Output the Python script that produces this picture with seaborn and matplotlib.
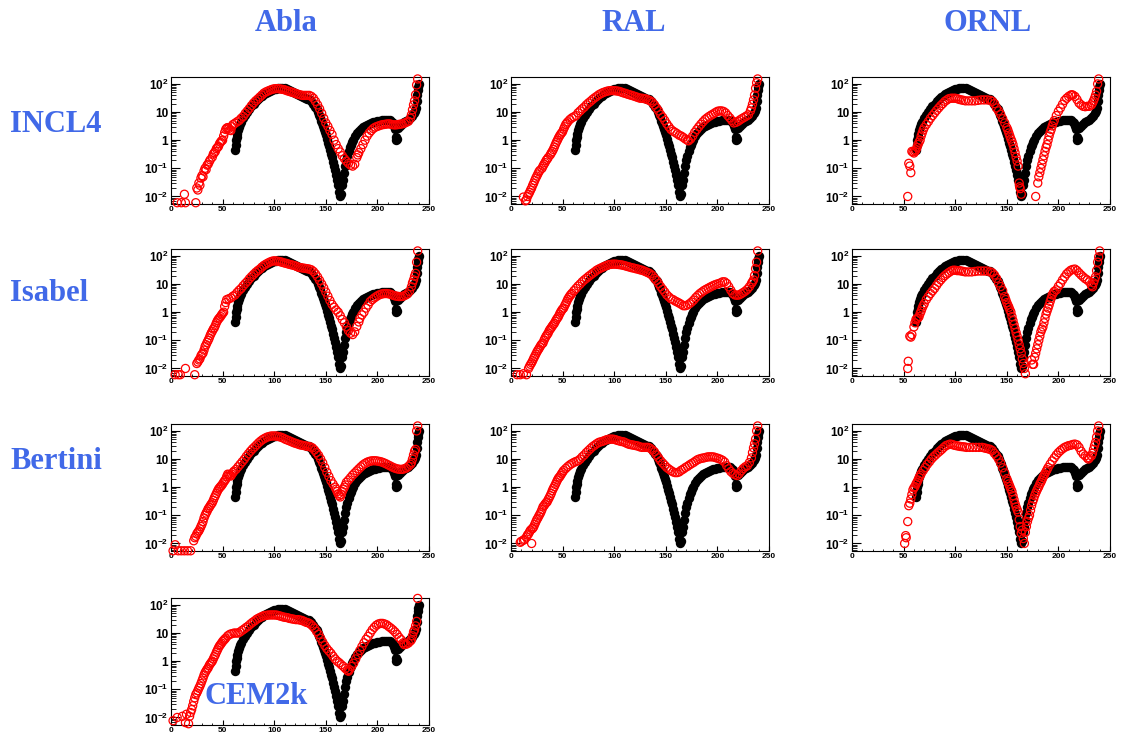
import matplotlib
matplotlib.use('Agg')
import matplotlib.pyplot as plt
from matplotlib.ticker import NullFormatter, LogLocator
import seaborn as sns

sns.set_style('white')
plt.rcParams['font.family'] = ['Liberation Sans', 'DejaVu Sans']
plt.rcParams['mathtext.fontset'] = 'custom'
plt.rcParams['mathtext.rm'] = 'Liberation Sans:bold'
plt.rcParams['mathtext.bf'] = 'Liberation Sans:bold'

# %%
# data (black, same in every panel)
exp_x = [62, 62.5, 63, 63.5, 64, 65, 66, 67, 68,
         70, 72, 74, 76, 78, 80, 82, 84, 86, 88, 90, 92, 94, 96, 98, 100, 102, 104, 106, 108,
         110, 112, 114, 116, 118, 120, 122, 124, 126, 128, 130, 132, 134, 136, 138, 140,
         141, 142, 143, 144, 145, 146, 147, 148, 149, 150, 151, 152, 153, 154, 155, 156, 157, 158,
         159, 160, 161, 162, 163, 164, 165, 166, 167, 168, 169, 170, 171, 172, 173, 174, 175, 176,
         178, 180, 182, 184, 186, 188, 190, 192, 194, 196, 198, 200, 202, 204, 206, 208, 210, 212, 214,
         215, 216, 217, 218, 218.5, 219, 220,
         222, 224, 226, 228, 230, 232, 234,
         235, 236, 237, 238, 238.5, 239, 239.5, 240]
exp_y = [0.45, 0.7, 1.0, 1.3, 1.6, 2.3, 3.0, 3.8, 4.5,
         6, 8, 10, 13, 16, 20, 24, 28, 33, 38, 43, 48, 53, 57, 61, 64, 67, 70, 72, 72,
         70, 66, 62, 57, 52, 48, 44, 40, 37, 34, 32, 30, 28, 25, 20, 15,
         12.5, 10, 8, 6.5, 5, 4, 3.2, 2.5, 2, 1.5, 1.1, 0.8, 0.6, 0.45, 0.33, 0.25, 0.17, 0.12,
         0.085, 0.06, 0.04, 0.025, 0.015, 0.01, 0.012, 0.025, 0.04, 0.07, 0.12, 0.2, 0.28, 0.4, 0.55, 0.7, 0.85, 1.0,
         1.4, 1.8, 2.2, 2.6, 3.0, 3.3, 3.6, 3.9, 4.2, 4.4, 4.6, 4.8, 5.0, 5.1, 5.2, 5.3, 5.3, 5.1, 4.5,
         4.0, 3.2, 2.5, 1.0, 1.3, 1.1, 2.8,
         3.3, 3.8, 4.3, 4.8, 5.3, 6, 7.5,
         9, 11, 14, 25, 40, 60, 80, 100]

# %%
# models (red), (x, y) pairs
incl4_abla = [(6, 0.006), (10, 0.006), (13, 0.012), (14, 0.006), (24, 0.006), (25, 0.02), (26, 0.017),
    (27, 0.03), (28, 0.025), (29, 0.045), (30, 0.055), (31, 0.05), (32, 0.08), (33, 0.1), (34, 0.09),
    (35, 0.13), (36, 0.14), (37, 0.17), (38, 0.2), (40, 0.25), (41, 0.32), (42, 0.36), (43, 0.4),
    (44, 0.5), (45, 0.55), (46, 0.6), (47, 0.75), (48, 0.85), (49, 0.95), (50, 1.0), (51, 1.4),
    (52, 1.9), (53, 2.4), (54, 2.7), (55, 2.8), (56, 2.6), (57, 2.3), (58, 2.2), (59, 3.0), (60, 3.6),
    (62, 4.0), (64, 4.5), (66, 5.0), (68, 6), (70, 7), (72, 9), (74, 11), (76, 13.5), (78, 17),
    (80, 21), (82, 25), (84, 29), (86, 34), (88, 40), (90, 47), (92, 52), (94, 56), (96, 60), (98, 64),
    (100, 67), (102, 68), (104, 68), (106, 66), (108, 64), (110, 62), (112, 58), (114, 55), (116, 52),
    (118, 50), (120, 47), (122, 44), (124, 42), (126, 40), (128, 39), (130, 39), (132, 39), (134, 39),
    (136, 36), (138, 31), (140, 24), (142, 18), (144, 13), (146, 9), (148, 6), (150, 4.1), (152, 3.1),
    (154, 2.2), (156, 1.6), (158, 1.0), (160, 0.7), (162, 0.5), (164, 0.38), (166, 0.28), (168, 0.22),
    (170, 0.18), (172, 0.15), (174, 0.13), (176, 0.12), (178, 0.14), (180, 0.24), (181, 0.3), (182, 0.36),
    (184, 0.5), (186, 0.7), (188, 1.0), (190, 1.4), (192, 1.8), (194, 2.2), (196, 2.6), (198, 2.9),
    (200, 3.1), (202, 3.3), (204, 3.5), (206, 3.6), (208, 3.7), (210, 3.8), (212, 3.8), (214, 3.6),
    (216, 3.5), (218, 3.5), (220, 3.6), (222, 3.7), (224, 3.8), (226, 4.0), (228, 4.3), (230, 4.7),
    (232, 6), (233, 8), (234, 12), (235, 18), (236, 25), (237, 41), (238, 92), (239, 150)]

incl4_ral = [(12, 0.0095), (14, 0.007), (15, 0.0075), (16, 0.01), (17, 0.012), (18, 0.014), (19, 0.017),
    (20, 0.02), (21, 0.025), (22, 0.03), (23, 0.037), (24, 0.045), (25, 0.053), (26, 0.063), (27, 0.075),
    (28, 0.085), (30, 0.1), (31, 0.12), (32, 0.14), (33, 0.16), (34, 0.19), (35, 0.21), (36, 0.24),
    (38, 0.3), (39, 0.35), (40, 0.4), (41, 0.47), (42, 0.57), (43, 0.7), (44, 0.85), (45, 1.0), (46, 1.2),
    (47, 1.4), (48, 1.6), (49, 1.8), (50, 2.0), (51, 2.5), (52, 3.0), (53, 3.6), (54, 4.0), (55, 4.5),
    (57, 5.4), (59, 6.2), (61, 6.8), (63, 7.5), (65, 9.4), (67, 11), (69, 13), (71, 15), (73, 18),
    (75, 21), (77, 24), (79, 28), (81, 32), (83, 36), (85, 41), (87, 45), (89, 49), (91, 52), (93, 55),
    (95, 57), (97, 58), (99, 58), (101, 57), (103, 56), (105, 54), (107, 51), (109, 48), (111, 46),
    (113, 43), (115, 41), (117, 39), (119, 37), (121, 35), (123, 33), (125, 31), (127, 31), (129, 30),
    (131, 29), (133, 27), (135, 25), (137, 22), (139, 18), (141, 14), (143, 11), (145, 8.1), (147, 6.5),
    (149, 5), (151, 3.8), (153, 3.0), (155, 2.4), (157, 2.1), (159, 1.9), (161, 1.7), (163, 1.5),
    (165, 1.4), (167, 1.25), (169, 1.1), (171, 1.0), (172, 0.95), (174, 1.1), (176, 1.4), (178, 1.9),
    (180, 2.4), (182, 3), (184, 3.7), (186, 4.5), (188, 5.4), (190, 6.2), (192, 7), (194, 7.8),
    (196, 8.6), (198, 9.6), (200, 10.6), (202, 11), (204, 11), (206, 10.5), (208, 9.3), (210, 7.5),
    (212, 6.2), (214, 5), (216, 4.1), (218, 4.3), (220, 4.7), (222, 5.3), (224, 5.9), (226, 6.5),
    (228, 7.2), (230, 8), (232, 11), (233, 14), (234, 19), (235, 27), (236, 40), (237, 70), (238, 110),
    (239, 150)]

incl4_ornl = [(54, 0.01), (55, 0.15), (56, 0.12), (57, 0.07), (58, 0.4), (59, 0.38), (60, 0.35),
    (61, 0.4), (62, 0.45), (63, 0.55), (64, 0.7), (65, 0.85), (66, 1.0), (67, 1.4), (68, 1.8), (69, 2.3),
    (70, 2.8), (72, 3.6), (74, 4.6), (76, 6), (78, 7.5), (80, 9.3), (82, 11.5), (84, 14), (86, 17),
    (88, 20), (90, 24), (92, 27), (94, 30), (96, 31), (98, 31), (100, 31), (102, 30), (104, 28),
    (106, 27), (108, 26), (110, 25), (113, 25), (116, 25), (119, 25), (122, 26), (125, 27), (128, 27),
    (131, 27), (134, 26), (136, 24), (138, 20), (140, 14), (142, 11), (144, 8.3), (146, 5.8), (148, 4.1),
    (150, 2.8), (151, 2.3), (152, 1.8), (153, 1.4), (154, 1.1), (155, 0.9), (156, 0.7), (157, 0.5),
    (158, 0.36), (159, 0.25), (160, 0.18), (161, 0.12), (162, 0.03), (162.5, 0.022), (163, 0.019),
    (164, 0.012), (178, 0.01), (180, 0.03), (181, 0.05), (182, 0.07), (183, 0.1), (184, 0.14),
    (185, 0.2), (186, 0.28), (187, 0.4), (188, 0.55), (189, 0.7), (190, 1.0), (191, 1.4), (192, 1.9),
    (193, 2.4), (194, 3.2), (195, 4.1), (196, 5), (198, 7.5), (200, 10.6), (202, 14), (204, 19),
    (206, 26), (208, 31), (210, 36), (212, 40), (213, 41), (214, 40), (216, 36), (218, 28), (220, 21),
    (222, 18), (224, 16), (226, 15.5), (228, 16), (230, 16), (232, 18), (233, 21), (234, 25), (235, 31),
    (236, 40), (237, 54), (238, 100), (239, 150)]

isabel_abla = [(4, 0.006), (7, 0.006), (9, 0.006), (14, 0.01), (23, 0.006), (25, 0.015), (26, 0.017),
    (27, 0.02), (28, 0.022), (29, 0.028), (30, 0.032), (31, 0.035), (32, 0.045), (33, 0.06), (34, 0.07),
    (35, 0.085), (36, 0.1), (37, 0.12), (38, 0.15), (39, 0.18), (40, 0.21), (41, 0.25), (42, 0.28),
    (43, 0.34), (44, 0.42), (45, 0.5), (46, 0.57), (47, 0.63), (48, 0.7), (49, 0.8), (50, 0.9), (51, 1.0),
    (52, 1.6), (53, 2.2), (54, 2.8), (56, 3.0), (58, 3.2), (60, 3.7), (62, 4.1), (64, 5), (66, 6),
    (68, 7), (70, 8.7), (72, 10.5), (74, 12.5), (76, 15.5), (78, 18.5), (80, 22), (82, 26), (84, 30),
    (86, 34), (88, 40), (90, 46), (92, 51), (94, 56), (96, 61), (98, 65), (100, 67), (102, 66), (104, 64),
    (106, 62), (108, 59), (110, 56), (112, 54), (114, 51), (116, 49), (118, 47), (120, 45), (122, 42),
    (124, 39), (126, 38), (128, 37), (130, 36), (132, 35), (134, 34), (136, 32), (138, 28), (140, 23),
    (142, 18), (144, 13.5), (146, 10), (148, 7.3), (150, 5.2), (152, 3.7), (154, 2.6), (156, 1.9),
    (158, 1.5), (160, 1.2), (162, 1.0), (164, 0.75), (166, 0.55), (168, 0.42), (170, 0.3), (172, 0.22),
    (174, 0.18), (176, 0.16), (178, 0.2), (180, 0.31), (182, 0.45), (183, 0.6), (185, 0.8), (187, 1.0),
    (189, 1.4), (191, 1.8), (193, 2.4), (195, 2.8), (197, 3.2), (199, 3.6), (201, 4.0), (203, 4.3),
    (205, 4.5), (207, 4.6), (209, 4.6), (211, 4.5), (213, 4.3), (215, 4.0), (217, 3.8), (219, 3.7),
    (221, 3.6), (223, 3.6), (225, 3.7), (227, 4.0), (229, 4.4), (231, 5.5), (233, 8), (234, 11),
    (235, 14), (236, 19), (237, 24), (238, 60), (239, 150)]

isabel_ral = [(6, 0.006), (9, 0.006), (12, 0.0065), (15, 0.006), (17, 0.01), (18, 0.012), (19, 0.014),
    (20, 0.016), (21, 0.019), (22, 0.023), (23, 0.027), (24, 0.032), (25, 0.038), (26, 0.044), (27, 0.05),
    (28, 0.058), (29, 0.067), (30, 0.075), (31, 0.08), (32, 0.1), (33, 0.12), (34, 0.14), (35, 0.16),
    (36, 0.18), (37, 0.22), (38, 0.25), (39, 0.28), (40, 0.32), (41, 0.36), (42, 0.4), (43, 0.47),
    (44, 0.55), (45, 0.62), (46, 0.7), (47, 0.85), (48, 1.0), (49, 1.15), (50, 1.3), (51, 1.4), (52, 1.7),
    (53, 2.0), (54, 2.4), (55, 2.9), (56, 3.3), (57, 3.8), (58, 4.2), (59, 4.7), (61, 5.8), (63, 7),
    (65, 8.5), (67, 10), (69, 12), (71, 14), (73, 16), (75, 18.5), (77, 21), (79, 24), (81, 27), (83, 31),
    (85, 34), (87, 37), (89, 40), (91, 43), (93, 46), (95, 49), (97, 50), (99, 51), (101, 51), (103, 50),
    (105, 49), (107, 48), (109, 46), (111, 44), (113, 42), (115, 40), (117, 38), (119, 37), (121, 35),
    (123, 34), (125, 32), (127, 31), (129, 29), (131, 27), (133, 25), (135, 23), (137, 20), (139, 16),
    (141, 13.5), (143, 10.5), (145, 8.1), (147, 6.5), (149, 5.2), (151, 4.1), (153, 3.5), (155, 3.0),
    (157, 2.8), (159, 2.5), (161, 2.3), (163, 2.1), (165, 1.9), (167, 1.7), (169, 1.7), (171, 1.8),
    (173, 2.0), (175, 2.3), (177, 2.7), (179, 3.3), (181, 3.9), (183, 4.6), (185, 5.2), (187, 5.9),
    (189, 6.5), (191, 7.1), (193, 7.8), (195, 8.5), (197, 9.2), (199, 9.8), (201, 10.3), (203, 11),
    (205, 12), (207, 12), (209, 10.5), (211, 8), (213, 6), (215, 4.6), (217, 4.1), (219, 4.0), (221, 4.1),
    (223, 4.5), (225, 5), (227, 5.6), (229, 6.5), (231, 8), (233, 10.5), (234, 12), (235, 14), (236, 20),
    (237, 35), (238, 60), (239, 150)]

isabel_ornl = [(54, 0.01), (54.5, 0.018), (56, 0.14), (57, 0.13), (58, 0.16), (60, 0.3), (61, 0.42),
    (62, 0.55), (63, 0.6), (64, 0.62), (65, 0.7), (66, 0.9), (67, 1.1), (68, 1.4), (69, 1.7), (70, 2.0),
    (72, 2.8), (74, 3.6), (76, 4.6), (78, 5.7), (80, 7), (82, 9), (84, 11.5), (86, 14), (88, 17), (90, 20),
    (92, 23), (94, 26), (96, 29), (98, 31), (100, 31), (102, 30), (104, 30), (106, 29), (108, 28),
    (110, 27), (113, 27), (116, 27), (119, 28), (122, 29), (125, 29), (128, 29), (131, 29), (134, 27),
    (136, 25), (138, 21), (140, 16), (142, 11), (144, 8.1), (146, 5.8), (148, 3.6), (149, 2.8), (150, 2.2),
    (151, 1.8), (152, 1.5), (153, 1.2), (154, 1.0), (155, 0.7), (156, 0.5), (157, 0.36), (158, 0.26),
    (159, 0.19), (160, 0.14), (161, 0.1), (162, 0.07), (163, 0.05), (164, 0.035), (165, 0.022),
    (166, 0.015), (167, 0.01), (168, 0.0065), (174, 0.02), (175, 0.014), (176, 0.014), (177, 0.025),
    (178, 0.035), (179, 0.05), (180, 0.07), (181, 0.1), (182, 0.14), (183, 0.2), (184, 0.25), (185, 0.3),
    (186, 0.42), (187, 0.6), (188, 0.85), (189, 1.1), (190, 1.4), (191, 1.8), (192, 2.4), (193, 3.1),
    (194, 4.1), (195, 4.8), (196, 5.5), (198, 6.2), (200, 8.3), (202, 10.5), (204, 14), (206, 18),
    (208, 23), (210, 27), (212, 31), (214, 33), (216, 34), (218, 30), (220, 25), (222, 21), (224, 18),
    (226, 15.5), (228, 14), (230, 12), (232, 9), (233, 8), (234, 11), (235, 14), (236, 18), (237, 30),
    (238, 60), (239, 92), (240, 150)]

bertini_abla = [(2, 0.0055), (4, 0.009), (7, 0.0055), (10, 0.0055), (13, 0.0055), (16, 0.0055),
    (19, 0.0055), (22, 0.0125), (23, 0.016), (24, 0.018), (25, 0.022), (26, 0.025), (27, 0.028),
    (28, 0.033), (29, 0.04), (30, 0.048), (31, 0.06), (32, 0.08), (33, 0.1), (34, 0.12), (35, 0.14),
    (36, 0.17), (37, 0.19), (38, 0.22), (39, 0.25), (40, 0.28), (41, 0.34), (42, 0.42), (43, 0.5),
    (44, 0.6), (45, 0.72), (46, 0.85), (47, 0.95), (48, 1.05), (49, 1.15), (50, 1.3), (51, 1.5), (52, 1.7),
    (53, 1.9), (54, 2.4), (55, 2.9), (56, 2.8), (57, 2.6), (58, 2.5), (59, 2.9), (60, 3.3), (61, 3.7),
    (63, 4.3), (65, 5.3), (67, 6.5), (69, 8), (71, 9.8), (73, 12.5), (75, 15.5), (77, 19), (79, 23),
    (81, 27), (83, 32), (85, 38), (87, 44), (89, 50), (91, 55), (93, 60), (95, 63), (97, 66), (99, 66),
    (101, 66), (103, 65), (105, 62), (107, 59), (109, 55), (111, 50), (113, 47), (115, 44), (117, 41),
    (119, 38), (121, 36), (123, 34), (125, 32), (127, 31), (129, 30), (131, 29), (133, 28), (135, 27),
    (137, 25), (139, 21), (141, 17), (143, 13.5), (145, 10), (147, 7.3), (149, 5), (151, 3.4), (153, 2.4),
    (155, 1.7), (157, 1.3), (159, 1.0), (160, 0.85), (161, 0.7), (162, 0.58), (163, 0.5), (164, 0.45),
    (165, 0.55), (166, 0.7), (167, 0.85), (168, 1.0), (169, 1.2), (170, 1.5), (172, 1.8), (174, 2.2),
    (176, 2.7), (178, 3.2), (180, 3.8), (182, 4.5), (184, 5.3), (186, 6.2), (188, 7), (190, 7.7),
    (192, 8.2), (194, 8.6), (196, 8.7), (198, 8.7), (200, 8.5), (202, 8.2), (204, 7.9), (206, 7.4),
    (208, 6.9), (210, 6.3), (212, 5.8), (214, 5.3), (216, 4.9), (218, 4.6), (220, 4.4), (222, 4.3),
    (224, 4.3), (226, 4.5), (228, 4.8), (230, 5.5), (232, 6.5), (233, 7.5), (234, 10), (235, 14),
    (236, 19), (237, 22), (238, 100), (239, 150)]

bertini_ral = [(9, 0.011), (10, 0.012), (12, 0.013), (13, 0.014), (15, 0.017), (16, 0.02), (17, 0.022),
    (18, 0.026), (19, 0.03), (20, 0.01), (20.5, 0.033), (21, 0.035), (22, 0.039), (23, 0.048), (24, 0.058),
    (25, 0.07), (26, 0.08), (27, 0.095), (28, 0.11), (29, 0.13), (30, 0.16), (31, 0.2), (32, 0.22),
    (33, 0.25), (34, 0.28), (35, 0.3), (36, 0.36), (37, 0.42), (38, 0.5), (39, 0.6), (40, 0.75), (41, 0.9),
    (42, 1.05), (43, 1.25), (44, 1.5), (45, 1.8), (46, 2.1), (47, 2.3), (48, 2.6), (49, 3.0), (50, 3.4),
    (51, 3.9), (53, 4.6), (55, 5.4), (57, 6.2), (59, 6.9), (61, 7.6), (63, 8.2), (65, 8.7), (67, 10),
    (69, 12), (71, 14), (73, 17), (75, 20), (77, 23.5), (79, 27.5), (81, 31), (83, 35), (85, 39), (87, 41),
    (89, 43), (91, 46), (93, 49), (95, 51), (97, 51), (99, 51), (101, 49), (103, 46), (105, 44), (107, 42),
    (109, 41), (111, 38), (113, 35), (115, 33), (117, 32), (119, 31), (121, 30), (123, 29), (125, 27),
    (127, 26), (129, 26), (131, 26), (133, 26), (135, 24), (137, 21), (139, 18), (141, 14), (143, 11),
    (145, 8.7), (147, 7.2), (149, 6), (151, 5), (153, 4.4), (155, 3.9), (157, 3.5), (159, 3.3),
    (161, 3.3), (163, 3.5), (165, 4.0), (167, 4.4), (169, 5), (171, 5.5), (173, 6.2), (175, 6.9),
    (177, 7.6), (179, 8.6), (181, 9.6), (183, 10.2), (185, 10.7), (187, 11), (189, 11.5), (191, 12),
    (193, 12), (195, 12), (197, 11.7), (199, 11), (201, 10.5), (203, 9.8), (205, 9), (207, 7.8),
    (209, 5.8), (211, 4.5), (213, 3.6), (215, 3.1), (217, 2.8), (219, 2.6), (221, 3.0), (223, 3.8),
    (225, 4.6), (227, 5.3), (229, 5.8), (231, 7.5), (233, 11), (234, 17), (235, 25), (236, 35), (237, 51),
    (238, 100), (239, 150)]

bertini_ornl = [(51, 0.01), (52, 0.019), (52.5, 0.016), (54, 0.06), (55, 0.22), (56, 0.27), (57, 0.38),
    (58, 0.55), (59, 0.8), (60, 0.95), (61, 1.05), (62, 1.3), (63, 1.5), (64, 1.8), (65, 2.2), (66, 2.6),
    (67, 3), (69, 3.9), (71, 5), (73, 6.5), (75, 8), (77, 10), (79, 12), (81, 14), (83, 16.5), (85, 19),
    (87, 22), (89, 26), (91, 30), (93, 32), (95, 34), (97, 33), (99, 31), (101, 30), (103, 29), (105, 28),
    (107, 27.5), (109, 27), (111, 26), (114, 26), (117, 26), (120, 26), (123, 26), (126, 26), (128, 25),
    (130, 24), (132, 23), (134, 22), (136, 20), (138, 16), (140, 13), (142, 10), (144, 7.2), (146, 4.9),
    (148, 3.2), (150, 2.0), (151, 1.6), (152, 1.3), (153, 1.05), (154, 0.85), (155, 0.7), (156, 0.5),
    (157, 0.36), (158, 0.26), (159, 0.2), (160, 0.16), (161, 0.13), (162, 0.07), (163, 0.04), (164, 0.023),
    (165, 0.03), (166, 0.015), (167, 0.01), (168, 0.025), (169, 0.04), (170, 0.06), (171, 0.08), (172, 0.1),
    (173, 0.15), (174, 0.22), (175, 0.3), (176, 0.38), (177, 0.5), (178, 0.62), (179, 0.75), (180, 0.9),
    (181, 1.05), (182, 1.3), (183, 1.5), (184, 1.8), (185, 2.2), (186, 2.6), (187, 3.0), (188, 3.6),
    (189, 4.2), (190, 5), (192, 6.6), (194, 8.6), (196, 11), (198, 14), (200, 17), (202, 20), (204, 23),
    (206, 26), (208, 28), (210, 30), (212, 31), (214, 33), (216, 34), (218, 32), (220, 26), (222, 19),
    (224, 15), (226, 13), (228, 11), (229, 10), (230, 11), (232, 13), (233, 16), (234, 22), (235, 30),
    (236, 39), (237, 60), (238, 100), (239, 150)]

cem2k = [(2, 0.0077), (6, 0.01), (11, 0.011), (14, 0.0066), (15, 0.013), (17, 0.006), (18, 0.011),
    (19, 0.015), (20, 0.019), (21, 0.026), (22, 0.037), (23, 0.05), (24, 0.065), (25, 0.075), (26, 0.09),
    (27, 0.11), (28, 0.13), (29, 0.16), (30, 0.2), (31, 0.25), (32, 0.32), (33, 0.39), (34, 0.45),
    (35, 0.52), (36, 0.58), (37, 0.7), (38, 0.8), (39, 0.9), (40, 1.0), (41, 1.2), (42, 1.45), (43, 1.7),
    (44, 2.1), (45, 2.5), (46, 3), (47, 3.5), (48, 3.9), (49, 4.4), (50, 5), (51, 5.5), (52, 6), (53, 6.6),
    (55, 8), (57, 9), (59, 9.5), (61, 10), (63, 10), (65, 10), (67, 11), (69, 12.5), (71, 14), (73, 16),
    (75, 18), (77, 21), (79, 24), (81, 27), (83, 31), (85, 34), (87, 37), (89, 40), (91, 42), (93, 43),
    (95, 44), (97, 44), (99, 44), (101, 44), (103, 43), (105, 41), (107, 39), (109, 37), (111, 36),
    (113, 35), (115, 33), (117, 32), (119, 31), (121, 30), (123, 30), (125, 29), (127, 28), (129, 26),
    (131, 24), (133, 23), (135, 21), (137, 18), (139, 15), (141, 11.5), (143, 9), (145, 6.5), (147, 4.8),
    (149, 3.6), (151, 2.8), (153, 2.3), (155, 1.9), (157, 1.5), (159, 1.2), (161, 1.0), (163, 0.88),
    (165, 0.75), (167, 0.65), (169, 0.55), (171, 0.47), (172, 0.44), (173, 0.5), (175, 0.65), (177, 0.85),
    (179, 1.2), (181, 1.7), (183, 2.4), (185, 3.3), (187, 4.5), (189, 6), (191, 7.6), (193, 10), (195, 13),
    (197, 16), (199, 19), (201, 21), (203, 22), (205, 22), (207, 21), (209, 19.5), (211, 17), (213, 15),
    (215, 13), (217, 11), (219, 9), (221, 7), (223, 5.8), (225, 4.5), (226, 3.9), (228, 4), (230, 4.4),
    (232, 5.2), (233, 5.8), (234, 8), (235, 11), (236, 13), (237, 18), (238, 26), (239, 170)]

col_names = ['Abla', 'RAL', 'ORNL']
row_names = ['INCL4', 'Isabel', 'Bertini', 'CEM2k']
panels = {
    (0, 0): incl4_abla, (0, 1): incl4_ral, (0, 2): incl4_ornl,
    (1, 0): isabel_abla, (1, 1): isabel_ral, (1, 2): isabel_ornl,
    (2, 0): bertini_abla, (2, 1): bertini_ral, (2, 2): bertini_ornl,
    (3, 0): cem2k,
}
yticks = [0.01, 0.1, 1, 10, 100]
ytick_labels = [r'$10^{-2}$', r'$10^{-1}$', '1', '10', r'$10^{2}$']
xticks = [0, 50, 100, 150, 200, 250]

# %%
W, H = 1122, 740
fig = plt.figure(figsize=(W / 100, H / 100), dpi=100)
fig.patch.set_facecolor('white')

lefts = [171, 511, 852]
tops = [77, 249, 424, 598]
pw, ph = 258, 127

for (r, c), pts in panels.items():
    ax = fig.add_axes([lefts[c] / W, 1 - (tops[r] + ph) / H, pw / W, ph / H])
    mx = [p[0] for p in pts]
    my = [p[1] for p in pts]
    sns.scatterplot(x=exp_x, y=exp_y, ax=ax, color='black', s=46, linewidth=0, zorder=2)
    sns.scatterplot(x=mx, y=my, ax=ax, facecolors='none', edgecolor='red', s=34,
                    linewidth=0.9, zorder=3, clip_on=False)
    ax.set_yscale('log')
    ax.set_xlim(0, 250)
    ax.set_ylim(0.0054, 176)
    ax.set_yticks(yticks)
    ax.set_yticklabels(ytick_labels)
    ax.yaxis.set_minor_locator(LogLocator(base=10, subs=[2, 3, 4, 5, 6, 7, 8, 9], numticks=20))
    ax.yaxis.set_minor_formatter(NullFormatter())
    ax.set_xticks(xticks)
    ax.set_xticks(list(range(0, 251, 10)), minor=True)
    ax.tick_params(which='both', direction='in', left=True, bottom=True,
                   top=False, right=False, colors='black')
    ax.tick_params(axis='y', which='major', length=6.5, width=0.8, labelsize=8.5, pad=2)
    ax.tick_params(axis='y', which='minor', length=3.6, width=0.6)
    ax.tick_params(axis='x', which='major', length=3.6, width=0.8, labelsize=6, pad=1.5)
    ax.tick_params(axis='x', which='minor', length=1.8, width=0.6)
    for lab in ax.get_xticklabels() + ax.get_yticklabels():
        lab.set_fontweight('bold')
    for sp in ax.spines.values():
        sp.set_color('black')
        sp.set_linewidth(0.8)
    ax.set_xlabel('')
    ax.set_ylabel('')
    ax.set_facecolor('white')

title_color = '#4169E8'
title_font = dict(family='Liberation Serif', weight='bold', size=22, color=title_color)
col_centers = [286, 634, 988]
for name, cx in zip(col_names, col_centers):
    fig.text(cx / W, 1 - 31 / H, name, ha='center', va='baseline', **title_font)

row_pos = [(10, 132), (10, 301), (10, 469), (205, 704)]
for name, (tx, ty) in zip(row_names, row_pos):
    fig.text(tx / W, 1 - ty / H, name, ha='left', va='baseline', zorder=10, **title_font)

fig.savefig('out.png', dpi=100, facecolor='white')
